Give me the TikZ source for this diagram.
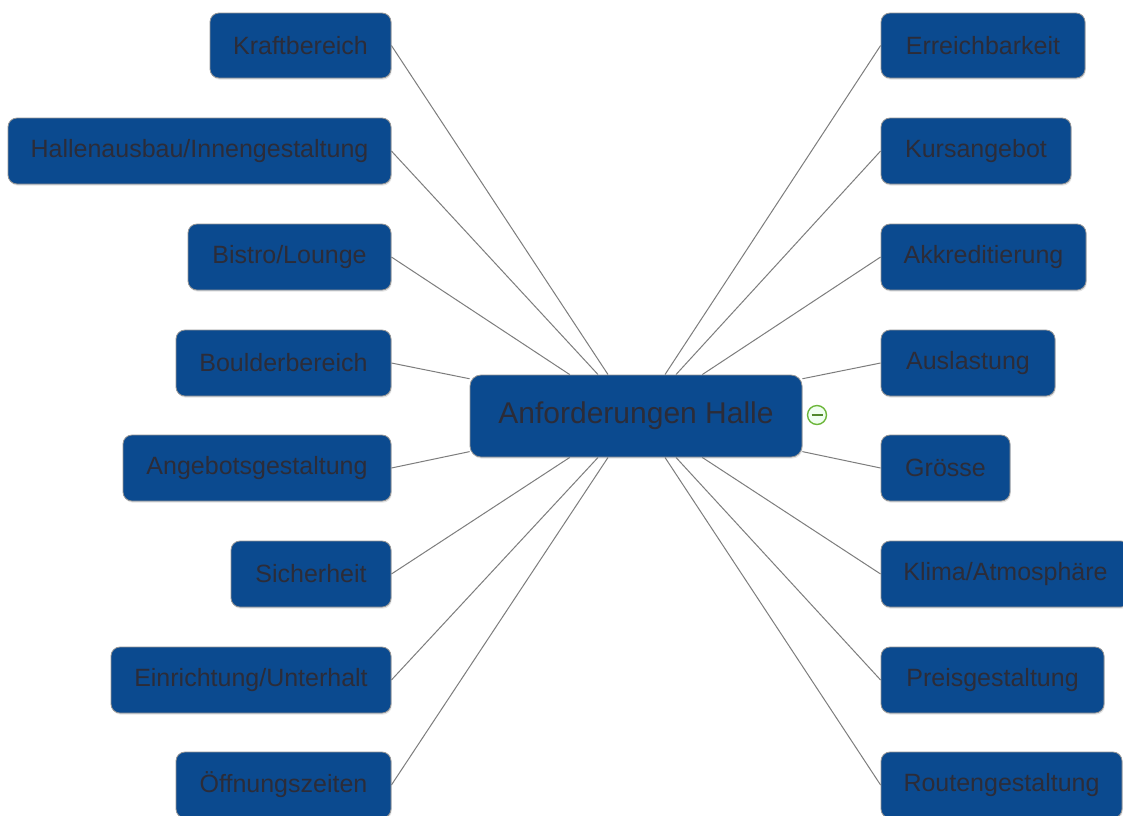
\documentclass[tikz,border=0pt]{standalone}
\usepackage{fontspec}
\setmainfont{Liberation Sans}
\usetikzlibrary{calc,backgrounds,shadows}

\definecolor{topicblue}{RGB}{11,74,143}
\definecolor{topictext}{RGB}{44,44,56}
\definecolor{topicedge}{RGB}{150,150,150}
\definecolor{linkgrey}{RGB}{125,125,125}
\definecolor{foldgreen}{RGB}{108,182,58}

\tikzset{
  topic/.style={draw=topicedge, line width=0.8pt, fill=topicblue,
    rounded corners=9pt, text=topictext, inner sep=0pt,
    font=\fontsize{25}{30}\selectfont,
    drop shadow={opacity=0.22, shadow xshift=0.8pt, shadow yshift=-1.6pt}},
  central/.style={topic, rounded corners=11pt, font=\fontsize{30}{36}\selectfont},
  link/.style={draw=linkgrey, line width=1pt},
  fold/.style={circle, draw=foldgreen, line width=1.4pt, fill=green!6,
    minimum size=19pt, inner sep=0pt,
    path picture={\draw[foldgreen!75!black, line width=1.7pt]
      ([xshift=-5.5pt]path picture bounding box.center) --
      ([xshift=5.5pt]path picture bounding box.center);}},
}

\begin{document}
\begin{tikzpicture}[x=1pt, y=-1pt]
  \useasboundingbox (0,0) rectangle (1123,815);

  % central topic
  \node[central, minimum width=332pt, minimum height=82pt] (c) at (636,416) {Anforderungen Halle};
  \node[fold] (fold) at (817,415) {};

  % left branch
  \node[topic, minimum width=181pt, minimum height=65pt] (k)  at (300.5,45.5) {Kraftbereich};
  \node[topic, minimum width=383pt, minimum height=66pt] (h)  at (199.5,151)  {Hallenausbau/Innengestaltung};
  \node[topic, minimum width=203pt, minimum height=66pt] (b)  at (289.5,257)  {Bistro/Lounge};
  \node[topic, minimum width=215pt, minimum height=66pt] (bo) at (283.5,363)  {Boulderbereich};
  \node[topic, minimum width=268pt, minimum height=66pt] (a)  at (257,468)    {Angebotsgestaltung};
  \node[topic, minimum width=160pt, minimum height=66pt] (s)  at (311,574)    {Sicherheit};
  \node[topic, minimum width=280pt, minimum height=66pt] (e)  at (251,680)    {Einrichtung/Unterhalt};
  \node[topic, minimum width=215pt, minimum height=66pt] (o)  at (283.5,785)  {Öffnungszeiten};

  % right branch
  \node[topic, minimum width=204pt, minimum height=65pt] (er) at (983,45.5)   {Erreichbarkeit};
  \node[topic, minimum width=190pt, minimum height=66pt] (ku) at (976,151)    {Kursangebot};
  \node[topic, minimum width=205pt, minimum height=66pt] (ak) at (983.5,257)  {Akkreditierung};
  \node[topic, minimum width=174pt, minimum height=66pt] (au) at (968,363)    {Auslastung};
  \node[topic, minimum width=129pt, minimum height=66pt] (g)  at (945.5,468)  {Grösse};
  \node[topic, minimum width=249pt, minimum height=66pt] (kl) at (1005.5,574) {Klima/Atmosphäre};
  \node[topic, minimum width=223pt, minimum height=66pt] (p)  at (992.5,680)  {Preisgestaltung};
  \node[topic, minimum width=241pt, minimum height=66pt] (r)  at (1001.5,785) {Routengestaltung};

  \begin{scope}[on background layer]
    \fill[white] (0,0) rectangle (1123,815);

    % attachment points on the central topic
    \coordinate (t1) at ($(c.north west)!0.301!(c.north east)$);
    \coordinate (t2) at ($(c.north west)!0.386!(c.north east)$);
    \coordinate (t3) at ($(c.north west)!0.416!(c.north east)$);
    \coordinate (t4) at ($(c.north west)!0.587!(c.north east)$);
    \coordinate (t5) at ($(c.north west)!0.620!(c.north east)$);
    \coordinate (t6) at ($(c.north west)!0.699!(c.north east)$);
    \coordinate (b1) at ($(c.south west)!0.301!(c.south east)$);
    \coordinate (b2) at ($(c.south west)!0.386!(c.south east)$);
    \coordinate (b3) at ($(c.south west)!0.416!(c.south east)$);
    \coordinate (b4) at ($(c.south west)!0.587!(c.south east)$);
    \coordinate (b5) at ($(c.south west)!0.620!(c.south east)$);
    \coordinate (b6) at ($(c.south west)!0.699!(c.south east)$);
    \coordinate (wl) at ($(c.north west)!0.05!(c.south west)$);
    \coordinate (wh) at ($(c.north west)!0.93!(c.south west)$);
    \coordinate (el) at ($(c.north east)!0.05!(c.south east)$);
    \coordinate (eh) at ($(c.north east)!0.93!(c.south east)$);

    \draw[link] (k.east)  -- (t3);
    \draw[link] (h.east)  -- (t2);
    \draw[link] (b.east)  -- (t1);
    \draw[link] (bo.east) -- (wl);
    \draw[link] (a.east)  -- (wh);
    \draw[link] (s.east)  -- (b1);
    \draw[link] (e.east)  -- (b2);
    \draw[link] (o.east)  -- (b3);

    \draw[link] (er.west) -- (t4);
    \draw[link] (ku.west) -- (t5);
    \draw[link] (ak.west) -- (t6);
    \draw[link] (au.west) -- (el);
    \draw[link] (g.west)  -- (eh);
    \draw[link] (kl.west) -- (b6);
    \draw[link] (p.west)  -- (b5);
    \draw[link] (r.west)  -- (b4);
  \end{scope}
\end{tikzpicture}
\end{document}
